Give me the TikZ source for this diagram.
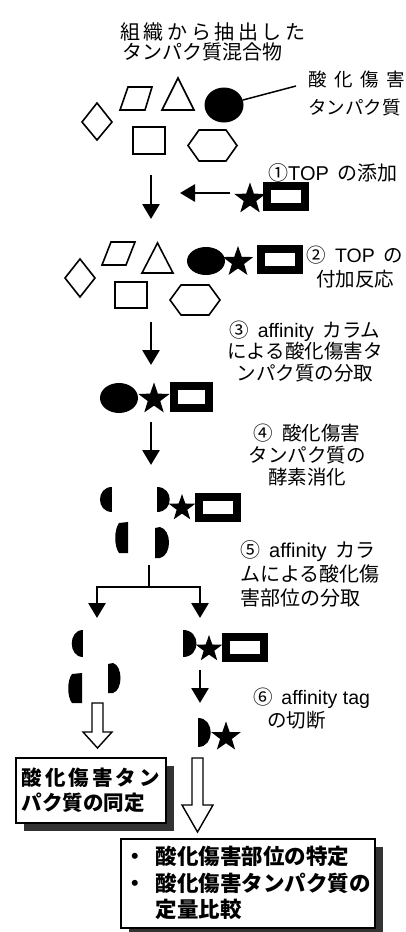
\documentclass[tikz,border=0pt]{standalone}
\usepackage{fontspec}
\newfontfamily\jp{Noto Sans CJK JP}
\newfontfamily\lat{Liberation Sans}
\usetikzlibrary{shapes.geometric,arrows.meta,shadows}
\newcommand\hs{\hspace{0.45em}}
\newcommand\kk[1]{\kern#1pt\relax}
\tikzset{
  shp/.style={draw, line width=1.6pt, line join=miter},
  starn/.style={star, star points=5, star point ratio=2.5, fill=black, inner sep=0pt, minimum size=32pt},
  tagbox/.style={draw, line width=8pt, minimum width=38pt, minimum height=21pt, inner sep=0pt},
  oval/.style={ellipse, fill=black, inner sep=0pt},
  arr/.style={line width=2.8pt, -{Triangle[width=17pt,length=15pt]}},
  bar/.style={line width=2.8pt},
  hollow/.style={draw, line width=1.4pt, fill=white, line join=miter},
  lbl/.style={font=\jp\fontsize{19.5}{22}\selectfont, inner sep=0pt},
  resbox/.style={draw, line width=1.6pt, fill=white, align=left, inner ysep=0pt,
    general shadow={fill=black!80, shadow xshift=8pt, shadow yshift=-8pt}},
}
\begin{document}
\begin{tikzpicture}[x=1pt,y=-1pt]
\useasboundingbox (0,0) rectangle (406,932);
% ---------- title ----------
\node[lbl, anchor=base west, align=left, font=\jp\fontsize{20}{20}\selectfont] (title) at (120,59.5)
  {組\kk{3.6}織\kk{3.6}か\kk{3.6}ら\kk{3.6}抽\kk{3.6}出\kk{3.6}し\kk{3.6}た\\\kern2pt タンパク質混合物};
% ---------- stage 1 mixture ----------
\draw[shp] (82,122) -- (97,103) -- (112,122) -- (97,140) -- cycle;
\draw[shp] (128,87) -- (152,87) -- (145,110) -- (120,110) -- cycle;
\draw[shp] (162,110) -- (194,110) -- (178,78) -- cycle;
\draw[shp] (133,127) rectangle (165,154);
\draw[shp] (188,145.5) -- (199,130) -- (226,130) -- (237,145.5) -- (226,161) -- (199,161) -- cycle;
\node[oval, minimum width=39pt, minimum height=35pt] (ov1) at (224,105) {};
\coordinate (lblpt) at (296,86);
\draw[line width=1.5pt] (ov1) -- (lblpt);
\node[lbl, anchor=base west, align=left, font=\jp\fontsize{18.5}{28}\selectfont] (oxlbl) at (308,114)
  {酸\kk{7.5}化\kk{7.5}傷\kk{7.5}害\\タンパク質};
% ---------- step 1 ----------
\node[lbl, anchor=base west, font=\jp\fontsize{20}{22}\selectfont] (s1) at (268,180) {①{\lat TOP}\hs の添加};
\node[starn, minimum size=33pt] (st1) at (250,199) {};
\node[tagbox] (tb1) at (285.5,196) {};
\coordinate (la1) at (230,193);
\coordinate (la2) at (180,193);
\draw[arr] (la1) -- (la2);
\coordinate (a1s) at (151,175);
\coordinate (a1e) at (151,219);
\draw[arr] (a1s) -- (a1e);
% ---------- stage 2 ----------
\draw[shp] (65,278) -- (80,259) -- (95,278) -- (80,297) -- cycle;
\draw[shp] (111,242) -- (135,242) -- (126,265) -- (102,265) -- cycle;
\draw[shp] (142,273) -- (173,273) -- (157.5,243) -- cycle;
\draw[shp] (115,282) rectangle (147,308);
\draw[shp] (170,300) -- (181,285) -- (209,285) -- (220,300) -- (209,315) -- (181,315) -- cycle;
\node[oval, minimum width=38pt, minimum height=28pt] (ov2) at (206,261) {};
\node[starn] (st2) at (238,262) {};
\node[tagbox] (tb2) at (279.5,259) {};
\node[lbl, anchor=base, align=center, font=\jp\fontsize{19.5}{24}\selectfont] (s2) at (355,286)
  {②\hs{\lat TOP}\hs の\\付加反応};
\coordinate (a2s) at (151,322);
\coordinate (a2e) at (151,365);
\draw[arr] (a2s) -- (a2e);
\node[lbl, anchor=base, align=center, font=\jp\fontsize{19.5}{21.5}\selectfont] (s3) at (305,380)
  {③\hs{\lat affinity}\hs カラム\\による酸化傷害タ\\ンパク質の分取};
% ---------- stage 3 ----------
\node[oval, minimum width=38pt, minimum height=30pt] (ov3) at (119,398) {};
\node[starn, minimum size=33pt] (st3) at (154,399) {};
\node[tagbox, minimum width=35pt, minimum height=22pt] (tb3) at (191.5,397) {};
\coordinate (a3s) at (151,422);
\coordinate (a3e) at (151,465);
\draw[arr] (a3s) -- (a3e);
\node[lbl, anchor=base, align=center, font=\jp\fontsize{19.5}{22}\selectfont] (s4) at (307,484)
  {④\hs 酸化傷害\\タンパク質の\\酵素消化};
% ---------- stage 4 fragments ----------
\fill (112,487) .. controls (96,487) and (96,512) .. (112,512) -- cycle;
\fill (157,487) .. controls (174,487) and (174,512) .. (157,512) -- cycle;
\fill (128,522) -- (119,523) .. controls (114,530) and (114,546) .. (119,553) -- (128,553) -- cycle;
\fill (155,528) -- (160,527) .. controls (172,530) and (172,555) .. (160,558) -- (155,558) -- cycle;
\node[starn, minimum size=28pt] (st4) at (182,508) {};
\node[tagbox] (tb4) at (217.5,507) {};
% branch
\coordinate (br0) at (149,565);
\coordinate (br1) at (149,587);
\coordinate (brl) at (97,587);
\coordinate (brr) at (200,587);
\coordinate (brle) at (97,618);
\coordinate (brre) at (200,618);
\draw[bar] (br0) -- (br1);
\draw[bar, line cap=rect] (brl) -- (brr);
\draw[arr] (brl) -- (brle);
\draw[arr] (brr) -- (brre);
\node[lbl, anchor=base west, align=left, font=\jp\fontsize{20}{24}\selectfont] (s5) at (240,605)
  {⑤\hs{\lat affinity}\hs カラ\\ムによる酸化傷\\害部位の分取};
% ---------- stage 5 left ----------
\fill (83,630) .. controls (68,630) and (68,657) .. (83,657) -- cycle;
\fill (82,673) -- (72,674) .. controls (67,680) and (67,697) .. (72,703) -- (82,703) -- cycle;
\fill (108,664) -- (113,663) .. controls (123,666) and (123,690) .. (113,693) -- (108,693) -- cycle;
% ---------- stage 5 right ----------
\fill (183,630) .. controls (201,630) and (201,657) .. (183,657) -- cycle;
\node[starn, minimum size=28pt] (st5) at (209,649) {};
\node[tagbox] (tb5) at (244.5,647.5) {};
\coordinate (a6s) at (200,670);
\coordinate (a6e) at (200,703);
\draw[arr] (a6s) -- (a6e);
\node[lbl, anchor=base west, align=left, font=\jp\fontsize{19.5}{23}\selectfont] (s6) at (253,727)
  {⑥\hs{\lat affinity tag}\\\hspace*{14pt}の切断};
% ---------- stage 6 ----------
\fill (198,718) .. controls (215,718) and (215,747) .. (198,747) -- cycle;
\node[starn, minimum size=31pt] (st6) at (226,737) {};
% ---------- hollow arrows ----------
\coordinate (h1) at (97.5,703);
\draw[hollow] (h1) ++(-5.5,0) -- ++(11,0) -- ++(0,29) -- ++(9,0) -- ++(-14.5,16) -- ++(-14.5,-16) -- ++(9,0) -- cycle;
\coordinate (h2) at (197.5,758);
\draw[hollow] (h2) ++(-5.5,0) -- ++(11,0) -- ++(0,47) -- ++(10,0) -- ++(-15.5,27) -- ++(-15.5,-27) -- ++(10,0) -- cycle;
% ---------- result boxes ----------
\node[resbox, anchor=north west, inner xsep=6pt, minimum height=65pt,
  font=\jp\bfseries\fontsize{20.5}{25}\selectfont] (res1) at (15,757)
  {酸\kk{3}化\kk{3}傷\kk{3}害\kk{3}タ\kk{3}ン\\パク質の同定};
\node[resbox, anchor=north west, inner xsep=4pt, minimum height=89pt,
  font=\jp\bfseries\fontsize{21.5}{26.5}\selectfont] (res2) at (120,838)
  {・\hs 酸化傷害部位の特定\\・\hs 酸化傷害タンパク質の\\\hspace*{31pt}定量比較};
\end{tikzpicture}
\end{document}
